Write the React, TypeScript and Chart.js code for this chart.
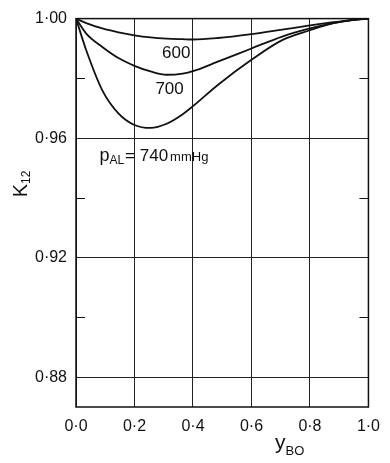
import React, { useEffect, useRef } from "react";
import { Chart, registerables } from "chart.js";

Chart.register(...registerables);

const yBO = [0, 0.035, 0.09, 0.145, 0.2, 0.255, 0.31, 0.365, 0.4, 0.485, 0.6, 0.705, 0.8, 0.88, 0.95, 1.0];
const k600 = [1.0, 0.9985, 0.9967, 0.9954, 0.9944, 0.9937, 0.9933, 0.9931, 0.993, 0.9935, 0.9948, 0.9963, 0.9977, 0.9988, 0.9996, 1.0];
const k700 = [1.0, 0.995, 0.9905, 0.9868, 0.9842, 0.9823, 0.9812, 0.9816, 0.9824, 0.9856, 0.99, 0.994, 0.9967, 0.9985, 0.9996, 1.0];
const k740 = [1.0, 0.9894, 0.976, 0.9683, 0.9644, 0.9634, 0.9648, 0.968, 0.9707, 0.9778, 0.9862, 0.9928, 0.9961, 0.9985, 0.9996, 1.0];

const yMajorTicks = [0.88, 0.92, 0.96, 1.0];
const yMinorTicks = [0.9, 0.94, 0.98];
const xTicks = [0, 0.2, 0.4, 0.6, 0.8, 1.0];

const curveLabels = [
  { text: "600", x: 0.343, y: 0.9883 },
  { text: "700", x: 0.32, y: 0.9763 },
];
const pressureLabel = { x: 0.08, y: 0.954 };

const FONT = "'Liberation Sans', Arial, sans-serif";
const fmt = (v: number, d: number) => v.toFixed(d).replace(".", "·");

const pts = (ys: number[]) => yBO.map((x, i) => ({ x, y: ys[i] }));

const decoPlugin = {
  id: "deco",
  afterDraw(chart: any) {
    const ctx = chart.ctx;
    const xs = chart.scales.x;
    const ys = chart.scales.y;
    const a = chart.chartArea;
    ctx.save();
    ctx.strokeStyle = "#111";
    ctx.lineWidth = 1.5;
    ctx.strokeRect(a.left, a.top, a.right - a.left, a.bottom - a.top);
    ctx.lineWidth = 1;
    yMinorTicks.forEach((v) => {
      const py = Math.round(ys.getPixelForValue(v)) + 0.5;
      ctx.beginPath();
      ctx.moveTo(a.left, py);
      ctx.lineTo(a.left + 9, py);
      ctx.moveTo(a.right, py);
      ctx.lineTo(a.right - 9, py);
      ctx.stroke();
    });
    ctx.fillStyle = "#111";
    ctx.textBaseline = "middle";
    ctx.textAlign = "center";
    ctx.font = `17px ${FONT}`;
    curveLabels.forEach((l) => {
      ctx.fillText(l.text, xs.getPixelForValue(l.x), ys.getPixelForValue(l.y));
    });
    let px = xs.getPixelForValue(pressureLabel.x);
    const py = ys.getPixelForValue(pressureLabel.y);
    ctx.textAlign = "left";
    ctx.textBaseline = "alphabetic";
    const base = py + 5;
    ctx.font = `18px ${FONT}`;
    ctx.fillText("p", px, base);
    px += ctx.measureText("p").width;
    ctx.font = `12px ${FONT}`;
    ctx.fillText("AL", px, base + 3);
    px += ctx.measureText("AL").width + 1;
    ctx.font = `17px ${FONT}`;
    ctx.fillText("= 740", px, base);
    px += ctx.measureText("= 740").width + 2;
    ctx.font = `13px ${FONT}`;
    ctx.fillText("mmHg", px, base);
    ctx.save();
    ctx.translate(27, 184);
    ctx.rotate(-Math.PI / 2);
    ctx.font = `20px ${FONT}`;
    const kw = ctx.measureText("K").width;
    ctx.font = `12px ${FONT}`;
    const sw = ctx.measureText("12").width;
    const sx = -(kw + sw) / 2;
    ctx.font = `20px ${FONT}`;
    ctx.fillText("K", sx, 0);
    ctx.font = `12px ${FONT}`;
    ctx.fillText("12", sx + kw, 3);
    ctx.restore();
    ctx.font = `21px ${FONT}`;
    ctx.textAlign = "left";
    const yw = ctx.measureText("y").width;
    ctx.fillText("y", 275, 449);
    ctx.font = `13px ${FONT}`;
    ctx.fillText("BO", 275 + yw, 455);
    ctx.restore();
  },
};

export default function App() {
  const ref = useRef<HTMLCanvasElement>(null);
  useEffect(() => {
    if (!ref.current) return;
    const line = (data: any) => ({
      data,
      borderColor: "#111",
      borderWidth: 1.8,
      pointRadius: 0,
      fill: false,
      cubicInterpolationMode: "monotone" as const,
    });
    const chart = new Chart(ref.current, {
      type: "line",
      data: {
        datasets: [line(pts(k600)), line(pts(k700)), line(pts(k740))],
      },
      options: {
        animation: false,
        responsive: false,
        layout: { padding: { top: 15, right: 12, left: 0, bottom: 0 } },
        plugins: { legend: { display: false }, tooltip: { enabled: false } },
        scales: {
          x: {
            type: "linear",
            min: 0,
            max: 1,
            afterBuildTicks: (s: any) => {
              s.ticks = xTicks.map((v) => ({ value: v }));
            },
            afterFit: (s: any) => {
              s.height = 56;
            },
            grid: { color: "#222", lineWidth: 1, drawTicks: false },
            border: { display: false },
            ticks: {
              color: "#111",
              font: { family: FONT, size: 16 },
              padding: 10,
              maxRotation: 0,
              callback: (v: any) => fmt(Number(v), 1),
            },
          },
          y: {
            type: "linear",
            min: 0.87,
            max: 1.0,
            afterBuildTicks: (s: any) => {
              s.ticks = yMajorTicks.map((v) => ({ value: v }));
            },
            afterFit: (s: any) => {
              s.width = 76;
            },
            grid: { color: "#222", lineWidth: 1, drawTicks: false },
            border: { display: false },
            ticks: {
              color: "#111",
              font: { family: FONT, size: 16 },
              padding: 9,
              callback: (v: any) => fmt(Number(v), 2),
            },
          },
        },
      },
      plugins: [decoPlugin],
    });
    return () => chart.destroy();
  }, []);
  return (
    <div style={{ position: "fixed", left: 0, top: 0, width: 390, height: 463, background: "#fff" }}>
      <canvas ref={ref} width={390} height={463} style={{ width: 390, height: 463 }} />
    </div>
  );
}
